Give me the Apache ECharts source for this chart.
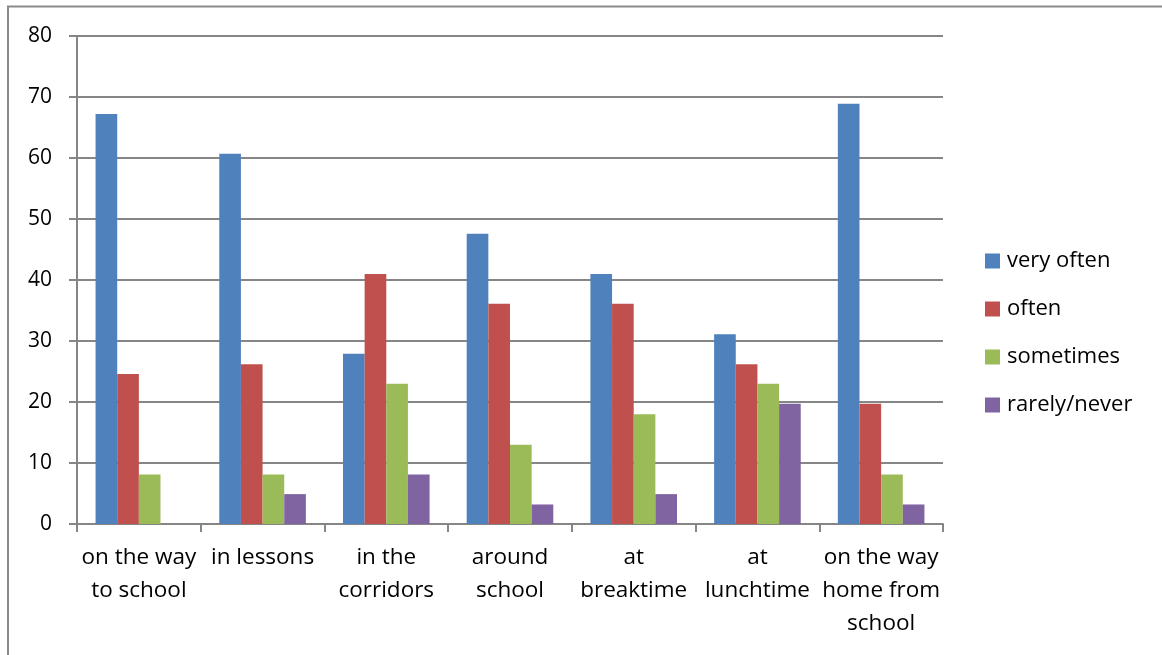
<!DOCTYPE html>
<html>
<head>
<meta charset="utf-8">
<script src="https://cdn.jsdelivr.net/npm/echarts@6/dist/echarts.min.js"></script>
<style>
html,body{margin:0;padding:0;background:#fff;}
#chart{width:1162px;height:655px;}
</style>
</head>
<body>
<div id="chart"></div>
<script>
const categories = ["on the way\nto school", "in lessons", "in the\ncorridors", "around\nschool", "at\nbreaktime", "at\nlunchtime", "on the way\nhome from\nschool"];
const seriesNames = ["very often", "often", "sometimes", "rarely/never"];
const veryOften = [67.2, 60.7, 27.9, 47.6, 41.0, 31.1, 68.9];
const often = [24.6, 26.2, 41.0, 36.1, 36.1, 26.2, 19.7];
const sometimes = [8.1, 8.1, 23.0, 13.0, 18.0, 23.0, 8.1];
const rarelyNever = [0, 4.9, 8.1, 3.2, 4.9, 19.7, 3.2];
const colors = ["#4F81BD", "#C0504D", "#9BBB59", "#8064A2"];
const yTicks = [0, 10, 20, 30, 40, 50, 60, 70, 80];

const FONT = "'Open Sans', Lato, sans-serif";
const chart = echarts.init(document.getElementById('chart'), null, {renderer: 'canvas'});
const allData = [veryOften, often, sometimes, rarelyNever];
chart.setOption({
  animation: false,
  backgroundColor: '#fff',
  textStyle: {fontFamily: FONT},
  color: colors,
  graphic: [{
    type: 'polyline',
    shape: {points: [[8, 700], [8, 6.5], [1200, 6.5]]},
    style: {stroke: '#8a8a8a', lineWidth: 2, fill: null},
    silent: true
  }],
  legend: {
    orient: 'vertical',
    left: 985,
    top: 250,
    padding: 0,
    itemWidth: 15,
    itemHeight: 15,
    itemGap: 26,
    icon: 'rect',
    textStyle: {fontSize: 22, color: '#000', fontFamily: FONT, padding: [0, 0, 0, 2]},
    data: seriesNames
  },
  grid: {left: 77, right: 219, top: 36, bottom: 131, containLabel: false},
  xAxis: {
    type: 'category',
    data: categories,
    axisLine: {lineStyle: {color: '#868686', width: 2}},
    axisTick: {show: true, length: 8, lineStyle: {color: '#868686', width: 2}},
    axisLabel: {color: '#000', fontSize: 22.5, lineHeight: 33, margin: 17, interval: 0, fontFamily: FONT},
    splitLine: {show: false}
  },
  yAxis: {
    type: 'value',
    min: yTicks[0],
    max: yTicks[yTicks.length - 1],
    interval: 10,
    axisLine: {show: true, lineStyle: {color: '#868686', width: 2}},
    axisTick: {show: true, length: 8, lineStyle: {color: '#868686', width: 2}},
    axisLabel: {color: '#000', fontSize: 21, margin: 25, fontFamily: FONT},
    splitLine: {show: true, lineStyle: {color: '#868686', width: 2}}
  },
  series: seriesNames.map((n, i) => ({
    name: n,
    type: 'bar',
    data: allData[i],
    barGap: '0%',
    barCategoryGap: '30%',
    itemStyle: {color: colors[i]}
  }))
});
</script>
</body>
</html>
